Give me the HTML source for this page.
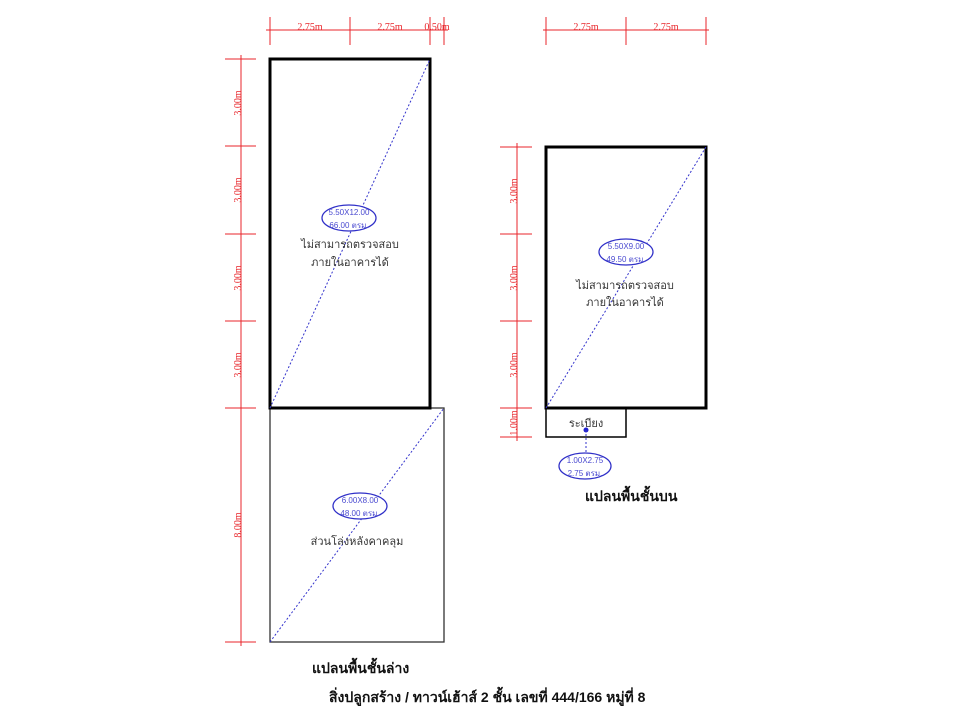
<!DOCTYPE html>
<html><head><meta charset="utf-8"><style>
html,body{margin:0;padding:0;background:#fff;}
svg{display:block;}
.d{stroke:#e8262b;stroke-width:1;fill:none}
.dt{fill:#e8262b;font-family:"Liberation Serif",serif;font-size:10px}
.bl{stroke:#3333cc;stroke-width:1;stroke-dasharray:2,2;fill:none}
.el{stroke:#3030c8;stroke-width:1.3;fill:#fff}
.et{fill:#4a4ad0;font-family:"Liberation Sans",sans-serif;font-size:8px}
.th{fill:#333;font-family:"Liberation Sans","Noto Sans CJK SC",sans-serif;font-size:11px}
.tb{fill:#111;font-family:"Liberation Sans","Noto Sans CJK SC",sans-serif;font-size:14px;font-weight:bold}
</style></head><body>
<svg width="960" height="720" viewBox="0 0 960 720" xmlns="http://www.w3.org/2000/svg">
<line class="d" x1="266" y1="30" x2="448" y2="30"/>
<line class="d" x1="270" y1="17" x2="270" y2="45"/>
<line class="d" x1="350" y1="17" x2="350" y2="45"/>
<line class="d" x1="430" y1="17" x2="430" y2="45"/>
<line class="d" x1="444" y1="17" x2="444" y2="45"/>
<text class="dt" x="310" y="30" text-anchor="middle">2.75m</text>
<text class="dt" x="390" y="30" text-anchor="middle">2.75m</text>
<text class="dt" x="437" y="30" text-anchor="middle">0.50m</text>
<line class="d" x1="241" y1="55" x2="241" y2="646"/>
<g class="d">
<line x1="225" y1="59" x2="256" y2="59"/>
<line x1="225" y1="146" x2="256" y2="146"/>
<line x1="225" y1="234" x2="256" y2="234"/>
<line x1="225" y1="321" x2="256" y2="321"/>
<line x1="225" y1="408" x2="256" y2="408"/>
<line x1="225" y1="642" x2="256" y2="642"/>
</g>
<text class="dt" transform="translate(241,103) rotate(-90)" text-anchor="middle">3.00m</text>
<text class="dt" transform="translate(241,190) rotate(-90)" text-anchor="middle">3.00m</text>
<text class="dt" transform="translate(241,278) rotate(-90)" text-anchor="middle">3.00m</text>
<text class="dt" transform="translate(241,365) rotate(-90)" text-anchor="middle">3.00m</text>
<text class="dt" transform="translate(241,525) rotate(-90)" text-anchor="middle">8.00m</text>
<rect x="270" y="408" width="174" height="234" fill="none" stroke="#333" stroke-width="1.3"/>
<line class="bl" x1="270" y1="642" x2="444" y2="408"/>
<rect x="270" y="59" width="160" height="349" fill="none" stroke="#000" stroke-width="3"/>
<line class="bl" x1="270" y1="408" x2="430" y2="59"/>
<ellipse class="el" cx="349" cy="218" rx="27" ry="13"/>
<text class="et" x="349" y="215" text-anchor="middle">5.50X12.00</text>
<text class="et" x="349" y="228" text-anchor="middle">66.00 ตรม.</text>
<text class="th" x="350" y="248" text-anchor="middle">ไม่สามารถตรวจสอบ</text>
<text class="th" x="350" y="266" text-anchor="middle">ภายในอาคารได้</text>
<ellipse class="el" cx="360" cy="506" rx="27" ry="13"/>
<text class="et" x="360" y="503" text-anchor="middle">6.00X8.00</text>
<text class="et" x="360" y="516" text-anchor="middle">48.00 ตรม.</text>
<text class="th" x="357" y="545" text-anchor="middle">ส่วนโล่งหลังคาคลุม</text>
<text class="tb" x="312" y="673">แปลนพื้นชั้นล่าง</text>
<line class="d" x1="543" y1="30" x2="709" y2="30"/>
<line class="d" x1="546" y1="17" x2="546" y2="45"/>
<line class="d" x1="626" y1="17" x2="626" y2="45"/>
<line class="d" x1="706" y1="17" x2="706" y2="45"/>
<text class="dt" x="586" y="30" text-anchor="middle">2.75m</text>
<text class="dt" x="666" y="30" text-anchor="middle">2.75m</text>
<line class="d" x1="517" y1="143" x2="517" y2="441"/>
<g class="d">
<line x1="500" y1="147" x2="532" y2="147"/>
<line x1="500" y1="234" x2="532" y2="234"/>
<line x1="500" y1="321" x2="532" y2="321"/>
<line x1="500" y1="408" x2="532" y2="408"/>
<line x1="500" y1="437" x2="532" y2="437"/>
</g>
<text class="dt" transform="translate(517,191) rotate(-90)" text-anchor="middle">3.00m</text>
<text class="dt" transform="translate(517,278) rotate(-90)" text-anchor="middle">3.00m</text>
<text class="dt" transform="translate(517,365) rotate(-90)" text-anchor="middle">3.00m</text>
<text class="dt" transform="translate(517,423) rotate(-90)" text-anchor="middle">1.00m</text>
<rect x="546" y="408" width="80" height="29" fill="none" stroke="#000" stroke-width="1.5"/>
<rect x="546" y="147" width="160" height="261" fill="none" stroke="#000" stroke-width="3"/>
<line class="bl" x1="546" y1="408" x2="706" y2="147"/>
<ellipse class="el" cx="626" cy="252" rx="27" ry="13"/>
<text class="et" x="626" y="249" text-anchor="middle">5.50X9.00</text>
<text class="et" x="626" y="262" text-anchor="middle">49.50 ตรม.</text>
<text class="th" x="625" y="289" text-anchor="middle">ไม่สามารถตรวจสอบ</text>
<text class="th" x="625" y="306" text-anchor="middle">ภายในอาคารได้</text>
<text class="th" x="586" y="427" text-anchor="middle">ระเบียง</text>
<circle cx="586" cy="430" r="2.5" fill="#2020d0"/>
<line class="bl" x1="586" y1="430" x2="586" y2="453"/>
<ellipse class="el" cx="585" cy="466" rx="26" ry="13"/>
<text class="et" x="585" y="463" text-anchor="middle">1.00X2.75</text>
<text class="et" x="585" y="476" text-anchor="middle">2.75 ตรม.</text>
<text class="tb" x="585" y="501">แปลนพื้นชั้นบน</text>
<text class="tb" x="329" y="702">สิ่งปลูกสร้าง / ทาวน์เฮ้าส์ 2 ชั้น เลขที่ 444/166 หมู่ที่ 8</text>
</svg>
</body></html>
